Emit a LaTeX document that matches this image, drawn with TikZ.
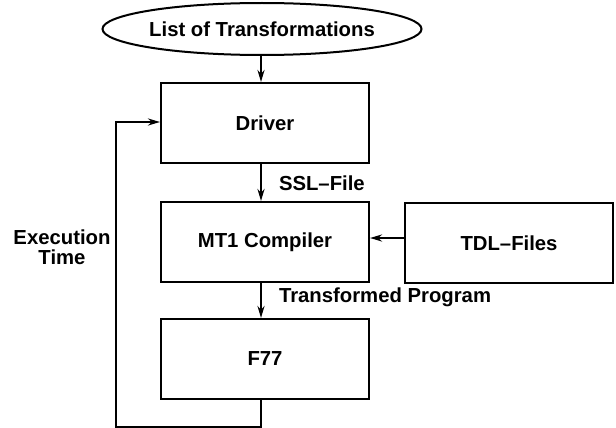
\documentclass[tikz,border=0pt]{standalone}
\usepackage{fontspec}
\setmainfont{Liberation Sans}
\usetikzlibrary{arrows.meta,shapes.geometric}
\begin{document}
\begin{tikzpicture}[x=1pt,y=-1pt,
  line width=2pt,
  every node/.style={font=\bfseries\fontsize{20.3}{23}\selectfont},
  stage/.style={draw,rectangle,minimum width=208pt,minimum height=80pt,inner sep=0pt},
  source/.style={draw,ellipse,minimum width=312pt,minimum height=52pt,inner sep=0pt},
  flow/.style={-{Stealth[length=12pt,width=7pt]}},
  label/.style={inner sep=0pt}]
  \useasboundingbox (0,0) rectangle (616,428);

  \node[source] (list) at (262,29) {List of Transformations};
  \node[stage] (driver) at (265,123) {Driver};
  \node[stage] (mt1) at (265,242) {MT1 Compiler};
  \node[stage] (tdl) at (509,243) {TDL--Files};
  \node[stage] (f77) at (265,359) {F77};

  \node[label,anchor=west] (ssl) at (278,183) {SSL--File};
  \node[label,anchor=west] (prog) at (278,297) {Transformed Program};
  \node[label,align=center] (exec) at (62,247) {Execution\\[-3pt]Time};

  \coordinate (loopdown) at (261,426.5);
  \coordinate (loopleft) at (116,426.5);
  \coordinate (loopup) at (116,122);

  \draw[flow] (list.south -| 261,0) -- (driver.north -| 261,0);
  \draw[flow] (driver.south -| 261,0) -- (mt1.north -| 261,0);
  \draw[flow] (mt1.south -| 261,0) -- (f77.north -| 261,0);
  \draw[flow] (tdl.west |- 0,238) -- (mt1.east |- 0,238);
  \draw[flow,line join=miter] (f77.south -| loopdown) -- (loopdown) -- (loopleft) -- (loopup) -- (driver.west |- loopup);
\end{tikzpicture}
\end{document}
